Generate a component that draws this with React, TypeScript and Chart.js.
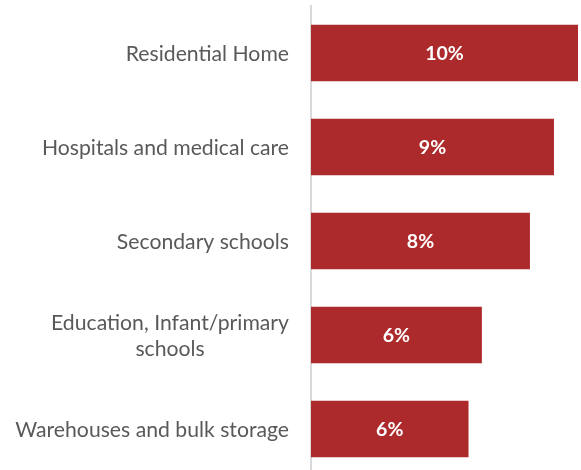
import React, { useEffect, useRef } from "react";
import { Chart, registerables } from "chart.js";

Chart.register(...registerables);

const categories: string[][] = [
  ["Residential Home"],
  ["Hospitals and medical care"],
  ["Secondary schools"],
  ["Education, Infant/primary", "schools"],
  ["Warehouses and bulk storage"],
];
const values: number[] = [10.0, 9.1, 8.2, 6.4, 5.9];
const valueLabels: string[] = ["10%", "9%", "8%", "6%", "6%"];

const BAR_COLOR = "#AD2A2C";
const TEXT_COLOR = "#595959";
const FONT_FAMILY = "Lato, 'Open Sans', sans-serif";

const categoryLabelPlugin = {
  id: "categoryLabels",
  afterDraw(chart: any) {
    const ctx = chart.ctx as CanvasRenderingContext2D;
    const yScale = chart.scales.y;
    const rightEdge = chart.chartArea.left - 22;
    const lineHeight = 26;
    ctx.save();
    ctx.font = `21.2px ${FONT_FAMILY}`;
    ctx.fillStyle = TEXT_COLOR;
    ctx.textAlign = "center";
    ctx.textBaseline = "middle";
    categories.forEach((lines, i) => {
      const yc = yScale.getPixelForValue(i) + 1;
      const w = Math.max(...lines.map((l) => ctx.measureText(l).width));
      const cx = rightEdge - w / 2;
      lines.forEach((line, j) => {
        const y = yc + (j - (lines.length - 1) / 2) * lineHeight;
        ctx.fillText(line, cx, y);
      });
    });
    ctx.restore();
  },
};

const valueLabelPlugin = {
  id: "valueLabels",
  afterDatasetsDraw(chart: any) {
    const ctx = chart.ctx as CanvasRenderingContext2D;
    const meta = chart.getDatasetMeta(0);
    ctx.save();
    ctx.font = `bold 19.5px ${FONT_FAMILY}`;
    ctx.fillStyle = "#FFFFFF";
    ctx.textAlign = "center";
    ctx.textBaseline = "middle";
    meta.data.forEach((bar: any, i: number) => {
      const x = (bar.x + bar.base) / 2;
      ctx.fillText(valueLabels[i], x, bar.y + 1);
    });
    ctx.restore();
  },
};

export default function App() {
  const canvasRef = useRef<HTMLCanvasElement | null>(null);

  useEffect(() => {
    if (!canvasRef.current) return;
    const chart = new Chart(canvasRef.current, {
      type: "bar",
      data: {
        labels: categories.map((c) => c.join(" ")),
        datasets: [
          {
            data: values,
            backgroundColor: BAR_COLOR,
            borderWidth: 0,
            categoryPercentage: 1,
            barPercentage: 0.6,
          },
        ],
      },
      options: {
        indexAxis: "y",
        animation: false,
        responsive: false,
        layout: { padding: { top: 6, right: 3, bottom: 0, left: 0 } },
        plugins: {
          legend: { display: false },
          tooltip: { enabled: false },
        },
        scales: {
          x: {
            display: false,
            min: 0,
            max: 10,
          },
          y: {
            grid: { display: false, drawTicks: false, tickLength: 0 },
            border: { display: true, color: "#D9D9D9", width: 2 },
            ticks: { display: false },
            afterFit(scale: any) {
              scale.width = 311;
            },
          },
        },
      },
      plugins: [categoryLabelPlugin, valueLabelPlugin],
    });
    return () => chart.destroy();
  }, []);

  return (
    <div
      style={{
        position: "fixed",
        left: 0,
        top: 0,
        width: 581,
        height: 470,
        overflow: "hidden",
        background: "#FFFFFF",
      }}
    >
      <canvas ref={canvasRef} width={581} height={476} style={{ display: "block" }} />
    </div>
  );
}
